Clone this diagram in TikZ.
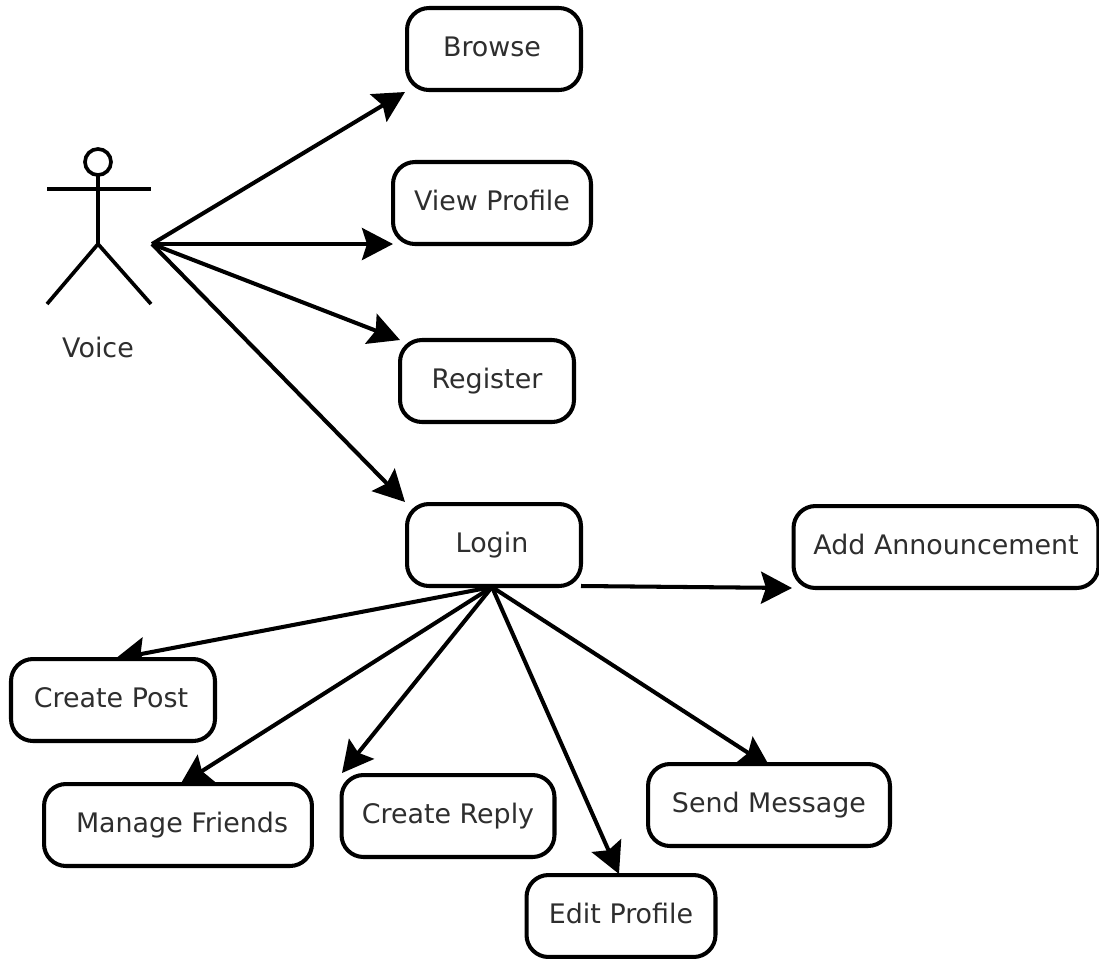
\documentclass[tikz,border=0pt]{standalone}
\usepackage{fontspec}
\setmainfont{DejaVu Sans}
\usetikzlibrary{arrows.meta,backgrounds}
\tikzset{
  label text/.style={font=\fontsize{15.3}{18}\selectfont, text=black!82},
  usecase/.style={draw, fill=white, line width=2.3pt, rounded corners=0.44cm, inner sep=0pt, minimum height=1.64cm, text height=0.42cm, text depth=0.14cm, label text},
  link/.style={line width=2.3pt, -{Stealth[length=0.62cm,width=0.64cm,inset=0.1cm]}},
  limb/.style={line width=2.1pt}
}
\begin{document}
\begin{tikzpicture}[x=0.02cm,y=-0.02cm]

\useasboundingbox (0,0) rectangle (1099,958);

% actor
\coordinate (head) at (98,175);
\coordinate (waist) at (98,244);
\coordinate (handl) at (47,189);
\coordinate (handr) at (151,189);
\coordinate (footl) at (47,304);
\coordinate (footr) at (151,304);
\coordinate (voicehand) at (152,244);

\draw [limb] (98,162) circle [radius=13];
\draw [limb] (head) -- (waist) ;
\draw [limb] (handl) -- (handr) ;
\draw [limb] (footl) -- (waist) -- (footr) ;
\node [label text] (voice) at (98,347) {Voice} ;

% use cases
\node [usecase, minimum width=3.48cm] (browse) at (494,49) {Browse\hspace*{0.08cm}} ;
\node [usecase, minimum width=3.96cm] (view) at (492,203) {View Profile} ;
\node [usecase, minimum width=3.48cm] (register) at (487,381) {Register} ;
\node [usecase, minimum width=3.48cm] (login) at (494,545) {Login\hspace*{0.08cm}} ;
\node [usecase, minimum width=6.1cm] (announce) at (946,547) {Add Announcement} ;
\node [usecase, minimum width=4.08cm] (post) at (113,700) {Create Post\hspace*{0.08cm}} ;
\node [usecase, minimum width=5.36cm] (friends) at (178,825) {\hspace*{0.16cm}Manage Friends} ;
\node [usecase, minimum width=4.26cm] (reply) at (448,816) {Create Reply} ;
\node [usecase, minimum width=4.84cm] (message) at (769,805) {Send Message} ;
\node [usecase, minimum width=3.78cm] (edit) at (621,916) {Edit Profile} ;

% links
\coordinate (loginbase) at (492,587) ;
\coordinate (loginright) at (581,586) ;
\begin{scope}[on background layer]
\fill [white] (0,0) rectangle (1099,958);
\draw [link] (voicehand) -- (browse.south west) ;
\draw [link] (voicehand) -- (393,244) ;
\draw [link] (voicehand) -- (400,340) ;
\draw [link] (voicehand) -- (login.north west) ;
\draw [link] (loginright) -- (792,588) ;
\draw [link] (loginbase) -- (115,659) ;
\draw [link] (loginbase) -- (180,785) ;
\draw [link] (loginbase) -- (342,773) ;
\draw [link] (loginbase) -- (619,874) ;
\draw [link] (loginbase) -- (770,767) ;
\end{scope}

\end{tikzpicture}
\end{document}
